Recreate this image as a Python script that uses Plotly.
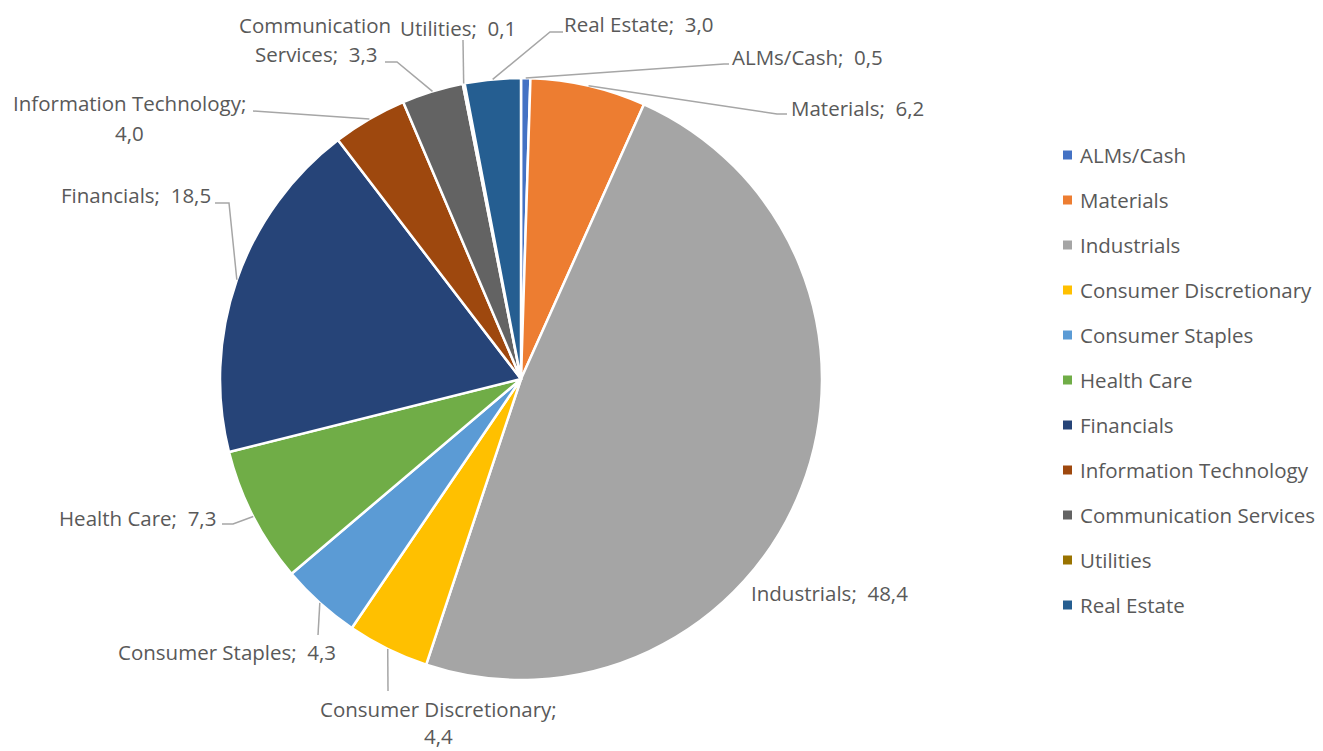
import math
import plotly.graph_objects as go

W, H = 1323, 751

# Sector allocation (%)
sectors = [
    "ALMs/Cash", "Materials", "Industrials", "Consumer Discretionary",
    "Consumer Staples", "Health Care", "Financials", "Information Technology",
    "Communication Services", "Utilities", "Real Estate",
]
weights = [0.5, 6.2, 48.4, 4.4, 4.3, 7.3, 18.5, 4.0, 3.3, 0.1, 3.0]
colors = [
    "#4472C4", "#ED7D31", "#A5A5A5", "#FFC000", "#5B9BD5", "#70AD47",
    "#264478", "#9E480E", "#636363", "#997300", "#255E91",
]

FONT = "Open Sans"
FSIZE = 20.5
TXT = "#595959"
LEADER = "#A6A6A6"

# pie geometry in pixels
CX, CY, R = 521, 379, 301


def px(x):
    return x / W


def py(y):
    return 1 - y / H


def fmt(v):
    return f"{v:.1f}".replace(".", ",")


fig = go.Figure(
    go.Pie(
        labels=sectors,
        values=weights,
        sort=False,
        direction="clockwise",
        rotation=0,
        marker=dict(colors=colors, line=dict(color="white", width=2.5)),
        textinfo="none",
        hoverinfo="label+value",
        showlegend=False,
        domain=dict(x=[px(CX - R), px(CX + R)], y=[py(CY + R), py(CY - R)]),
    )
)

# point on the pie rim at the middle of each slice
total = sum(weights)
anchors = []
cum = 0.0
for v in weights:
    mid = (cum + v / 2) / total
    a = 2 * math.pi * mid
    anchors.append((CX + R * math.sin(a), CY - R * math.cos(a)))
    cum += v

NB = "\u00a0"
# label layout: text lines (x, y, xanchor, yanchor, text-style) and leader elbows
#   style "one": "Name;  v"   "split": "Name;" / "v"   "block": two-line single box
label_layout = {
    "ALMs/Cash": dict(lines=[(731, 57, "left", "middle", "one")], path=[(724, 64), (729, 64)]),
    "Materials": dict(lines=[(790, 108, "left", "middle", "one")], path=[(777, 114), (787, 114)]),
    "Industrials": dict(lines=[(750, 593, "left", "middle", "one")], path=None),
    "Consumer Discretionary": dict(
        lines=[(438, 751, "center", "bottom", "block")], path=[(388, 691)],
    ),
    "Consumer Staples": dict(lines=[(337, 652, "right", "middle", "one")], path=[(318, 635)]),
    "Health Care": dict(lines=[(217, 518, "right", "middle", "one")], path=[(233, 524), (222, 524)]),
    "Financials": dict(lines=[(212, 195, "right", "middle", "one")], path=[(229, 203), (215, 203)]),
    "Information Technology": dict(
        lines=[(129, 103, "center", "middle", "head"), (129, 133, "center", "middle", "tail")],
        path=[(253, 111)],
    ),
    "Communication Services": dict(
        lines=[(315, 25, "center", "middle", "head"), (316, 54, "center", "middle", "tail")],
        path=[(397, 62), (385, 62)],
    ),
    "Utilities": dict(lines=[(399, 28, "left", "middle", "one")], path=[(463, 40)]),
    "Real Estate": dict(lines=[(563, 24, "left", "middle", "one")], path=[(550, 32), (563, 32)]),
}


def label_text(name, v, style):
    val = fmt(v)
    if style == "one":
        return f"{name};{NB}{NB}{val}"
    if style == "block":
        return f"{name};<br>{val}"
    if name == "Communication Services":
        return "Communication" if style == "head" else f"Services;{NB}{NB}{val}"
    return f"{name};" if style == "head" else val


annotations = []
shapes = []
for name, v, (ax, ay) in zip(sectors, weights, anchors):
    cfg = label_layout[name]
    for (x, y, xa, ya, style) in cfg["lines"]:
        annotations.append(dict(
            x=px(x), y=py(y), xref="paper", yref="paper",
            text=label_text(name, v, style), align="center",
            showarrow=False, xanchor=xa, yanchor=ya, borderpad=0,
            font=dict(family=FONT, size=FSIZE, color=TXT),
        ))
    if cfg["path"]:
        pts = [(ax, ay)] + cfg["path"]
        d = "M " + " L ".join(f"{px(x):.5f},{py(y):.5f}" for x, y in pts)
        shapes.append(dict(type="path", path=d, xref="paper", yref="paper",
                           line=dict(color=LEADER, width=1.5)))

# legend drawn at fixed rows
LEG_X, LEG_Y0, LEG_DY, SQ = 1067.5, 155, 45, 9
for i, (name, c) in enumerate(zip(sectors, colors)):
    y = LEG_Y0 + i * LEG_DY
    shapes.append(dict(type="rect", xref="paper", yref="paper",
                       x0=px(LEG_X - SQ / 2), x1=px(LEG_X + SQ / 2),
                       y0=py(y + SQ / 2), y1=py(y - SQ / 2),
                       fillcolor=c, line=dict(width=0)))
    annotations.append(dict(
        x=px(1079), y=py(y), xref="paper", yref="paper", text=name,
        showarrow=False, xanchor="left", yanchor="middle", borderpad=0,
        font=dict(family=FONT, size=FSIZE, color=TXT),
    ))

fig.update_layout(
    width=W, height=H,
    margin=dict(l=0, r=0, t=0, b=0),
    paper_bgcolor="white", plot_bgcolor="white",
    annotations=annotations, shapes=shapes,
)

fig.write_html("out.html")
